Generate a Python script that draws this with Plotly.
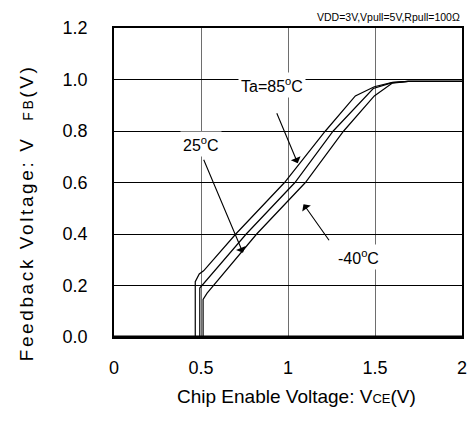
import plotly.graph_objects as go

# Curve data (x = VCE [V], y = VFB [V])
x_85 = [0.0, 0.467, 0.467, 0.49, 0.515, 0.70, 0.98, 1.215, 1.387, 1.496, 1.60, 1.69, 2.0]
y_85 = [0.0, 0.0, 0.215, 0.245, 0.257, 0.40, 0.60, 0.80, 0.936, 0.972, 0.989, 0.993, 0.993]

x_25 = [0.0, 0.493, 0.493, 0.76, 1.04, 1.26, 1.49, 1.60, 1.69, 2.0]
y_25 = [0.0, 0.0, 0.19, 0.40, 0.60, 0.80, 0.965, 0.988, 0.993, 0.993]

x_m40 = [0.0, 0.512, 0.512, 0.535, 0.82, 1.10, 1.32, 1.496, 1.60, 1.69, 2.0]
y_m40 = [0.0, 0.0, 0.146, 0.17, 0.40, 0.60, 0.80, 0.936, 0.986, 0.993, 0.993]

x_ticks = [0, 0.5, 1, 1.5, 2]
x_tick_labels = ["0", "0.5", "1", "1.5", "2"]
y_ticks = [0.0, 0.2, 0.4, 0.6, 0.8, 1.0, 1.2]
y_tick_labels = ["0.0", "0.2", "0.4", "0.6", "0.8", "1.0", "1.2"]

FONT = "Liberation Sans, Arial, sans-serif"
L, R, T, B = 114, 467, 28, 337

fig = go.Figure()
for xs, ys in [(x_85, y_85), (x_25, y_25), (x_m40, y_m40)]:
    fig.add_trace(go.Scatter(x=xs, y=ys, mode="lines",
                             line=dict(color="black", width=1.2),
                             showlegend=False, hoverinfo="skip"))

fig.update_layout(
    width=472, height=425, autosize=False,
    margin=dict(l=L, r=472 - R, t=T, b=425 - B),
    paper_bgcolor="white", plot_bgcolor="white",
    font=dict(family=FONT, size=18, color="black"),
    showlegend=False,
)
fig.update_xaxes(range=[0, 2], tickvals=x_ticks, ticktext=x_tick_labels,
                 showgrid=True, gridcolor="#6e6e6e", gridwidth=1,
                 showline=True, linecolor="black", linewidth=1.5, mirror=True,
                 ticks="", ticklabelstandoff=14, zeroline=False,
                 tickfont=dict(size=18))
fig.update_yaxes(range=[0, 1.2], tickvals=y_ticks, ticktext=y_tick_labels,
                 showgrid=True, gridcolor="black", gridwidth=1,
                 showline=True, linecolor="black", linewidth=1.5, mirror=True,
                 ticks="", ticklabelstandoff=21, zeroline=False,
                 tickfont=dict(size=18))

# thick bottom axis line
fig.add_shape(type="line", xref="x", yref="y", x0=0, x1=2, y0=0, y1=0,
              line=dict(color="black", width=3))

# Labels with arrows
labels = [
    ("Ta=85<sup>o</sup>C", 0.908, 0.978, 0.932, 0.875, 1.056, 0.675),
    ("25<sup>o</sup>C", 0.502, 0.749, 0.512, 0.694, 0.741, 0.327),
    ("-40<sup>o</sup>C", 1.404, 0.312, 1.242, 0.370, 1.089, 0.516),
]
for text, tx, ty, ax0, ay0, hx, hy in labels:
    fig.add_annotation(x=tx, y=ty, xref="x", yref="y", text=text,
                       showarrow=False, bgcolor="white", borderpad=2,
                       font=dict(size=16))
    fig.add_annotation(x=hx, y=hy, ax=ax0, ay=ay0, xref="x", yref="y",
                       axref="x", ayref="y", text="", showarrow=True,
                       arrowhead=1, arrowsize=1.6, arrowwidth=1.1,
                       arrowcolor="black")

# condition note
fig.add_annotation(x=1.0, y=1.0, xref="paper", yref="paper", yshift=3,
                   xanchor="right", yanchor="bottom",
                   text="VDD=3V,Vpull=5V,Rpull=100Ω", showarrow=False,
                   font=dict(size=10.5))

# axis titles (positions given in pixels, converted to paper coords)
xt_px, yt_px = 299, 396
fig.add_annotation(x=(xt_px - L) / (R - L), y=-(yt_px - B) / (B - T),
                   xref="paper", yref="paper", xanchor="center", yanchor="middle",
                   text="Chip Enable Voltage: V<span style='font-size:13px'>CE</span>(V)",
                   showarrow=False, font=dict(size=19))
yx_px, yy_px = 25, 213
ls = "letter-spacing:2.6px"
fig.add_annotation(x=-(L - yx_px) / (R - L), y=(B - yy_px) / (B - T),
                   xref="paper", yref="paper", xanchor="center", yanchor="middle",
                   text=(f"<span style='{ls}'>Feedback Voltage: V  </span>"
                         f"<span style='font-size:14px;{ls}'>FB</span>"
                         f"<span style='{ls}'>(V)</span>"),
                   showarrow=False, textangle=-90, font=dict(size=19))

fig.write_html("out.html",
               config={"displayModeBar": False, "responsive": False},
               post_script="document.body.style.margin='0';document.body.style.overflow='hidden';")
